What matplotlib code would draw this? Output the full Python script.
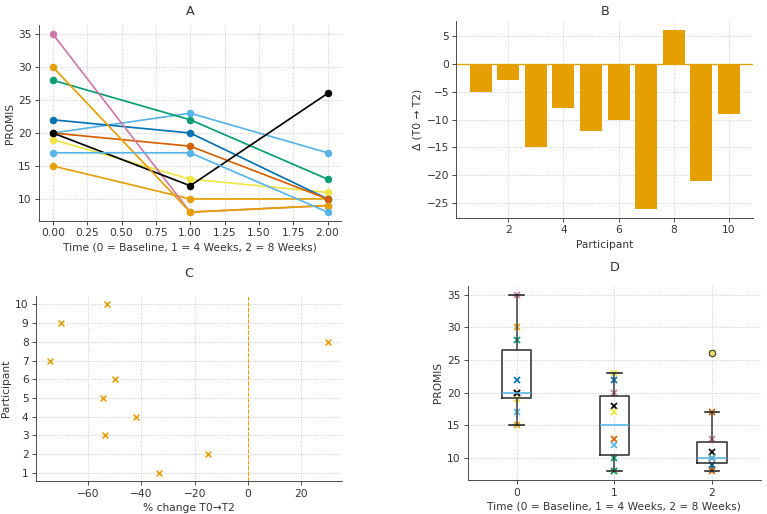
import numpy as np
import matplotlib
matplotlib.use("Agg")
import matplotlib.pyplot as plt

# PROMIS scores per participant at the three time points
participants = [1, 2, 3, 4, 5, 6, 7, 8, 9, 10]
times = [0, 1, 2]
promis_t0 = [15, 20, 28, 19, 22, 20, 35, 20, 30, 17]
promis_t1 = [10, 23, 22, 13, 20, 18, 8, 12, 8, 17]
promis_t2 = [10, 17, 13, 11, 10, 10, 9, 26, 9, 8]

# Okabe-Ito colour cycle
palette = ['#E69F00', '#56B4E9', '#009E73', '#F0E442',
           '#0072B2', '#D55E00', '#CC79A7', '#000000']
bar_color = '#E69F00'

scores = np.array([promis_t0, promis_t1, promis_t2])   # shape (time, participant)
delta = scores[2] - scores[0]
pct_change = 100.0 * delta / scores[0]

plt.rcParams.update({
    'font.family': 'DejaVu Sans',
    'text.color': '#333333',
    'axes.labelcolor': '#333333',
    'xtick.color': '#333333',
    'ytick.color': '#333333',
    'axes.edgecolor': '#333333',
    'axes.titlesize': 12,
})

fig = plt.figure(figsize=(10, 514 / 76.7), dpi=76.7)

def style(ax):
    ax.spines['top'].set_visible(False)
    ax.spines['right'].set_visible(False)
    ax.grid(True, linestyle=':', color='#c8c8c8', linewidth=0.9)
    ax.set_axisbelow(True)

# A: individual trajectories
axA = fig.add_axes([0.051, 0.570, 0.394, 0.381])
style(axA)
for i in range(len(participants)):
    axA.plot(times, scores[:, i], marker='o', color=palette[i % len(palette)],
             linewidth=1.6, markersize=6)
axA.set_xticks([0, 0.25, 0.5, 0.75, 1.0, 1.25, 1.5, 1.75, 2.0])
axA.set_xticklabels(['0.00', '0.25', '0.50', '0.75', '1.00', '1.25', '1.50', '1.75', '2.00'])
axA.set_xlabel('Time (0 = Baseline, 1 = 4 Weeks, 2 = 8 Weeks)')
axA.set_ylabel('PROMIS', labelpad=3)
axA.set_title('A', pad=10)

# B: change T0 -> T2
axB = fig.add_axes([0.595, 0.576, 0.387, 0.383])
style(axB)
axB.bar(participants, delta, color=bar_color, width=0.8)
axB.axhline(0, color=bar_color, linewidth=1.2)
axB.set_xticks([2, 4, 6, 8, 10])
axB.set_xlabel('Participant')
axB.set_ylabel('Δ (T0 → T2)')
axB.set_title('B', pad=6)

# C: percent change
axC = fig.add_axes([0.047, 0.064, 0.399, 0.360])
style(axC)
axC.scatter(pct_change, participants, marker='x', color=bar_color, s=30, linewidths=1.5)
axC.axvline(0, color=bar_color, linestyle='--', linewidth=1)
axC.set_yticks(participants)
axC.set_xlabel('% change T0→T2')
axC.set_ylabel('Participant')
axC.set_title('C', pad=18)

# D: box plots with individual points
axD = fig.add_axes([0.610, 0.066, 0.382, 0.378])
style(axD)
k = 0
for t in times:
    for i in range(len(participants)):
        axD.plot(t, scores[t, i], marker='x', color=palette[k % len(palette)],
                 markersize=6, markeredgewidth=1.6, linestyle='none')
        k += 1
axD.boxplot([scores[t] for t in times], positions=times, widths=0.3,
            boxprops=dict(color='#333333', linewidth=1.5),
            whiskerprops=dict(color='#444444', linewidth=1.5),
            capprops=dict(color='#222222', linewidth=1.5),
            medianprops=dict(color='#56B4E9', linewidth=1.5),
            flierprops=dict(marker='o', markerfacecolor='#E8DD6A',
                            markeredgecolor='#333333', markersize=6))
axD.set_xlim(-0.5, 2.5)
axD.set_ylim(6.65, 36.35)
axD.set_xticks(times)
axD.set_xticklabels(['0', '1', '2'])
axD.set_xlabel('Time (0 = Baseline, 1 = 4 Weeks, 2 = 8 Weeks)')
axD.set_ylabel('PROMIS')
axD.set_title('D', pad=14)

fig.savefig('out.png', dpi=76.7)
